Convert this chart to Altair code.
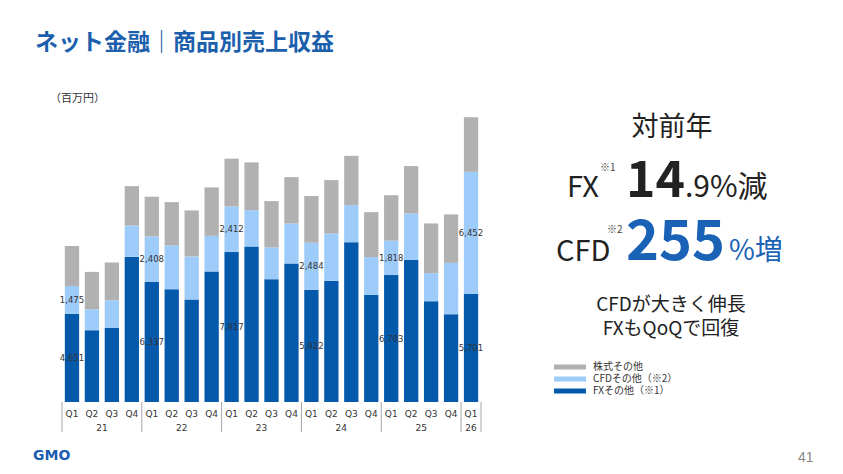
import altair as alt
import pandas as pd

quarters = ["Q1", "Q2", "Q3", "Q4"] * 5 + ["Q1"]
years = ["21"] * 4 + ["22"] * 4 + ["23"] * 4 + ["24"] * 4 + ["25"] * 4 + ["26"]
fx = [4651, 3789, 3911, 7663, 6337, 5956, 5412, 6892, 7917, 8213, 6485,
      7314, 5922, 6395, 8440, 5655, 6703, 7505, 5322, 4635, 5701]
cfd = [1475, 1110, 1464, 1659, 2408, 2310, 2273, 1881, 2412, 1918, 1675,
       2114, 2484, 2505, 1955, 1992, 1818, 2452, 1480, 2711, 6452]
stock = [2114, 1971, 1992, 2077, 2098, 2288, 2431, 2558, 2521, 2521, 2447,
         2447, 2468, 2817, 2605, 2378, 2399, 2500, 2627, 2558, 2886]
series_names = ["FXその他（※1）", "CFDその他（※2）", "株式その他"]
series_colors = ["#0459AB", "#9DCBFA", "#B1B1B1"]

# long table with stacked bottoms/tops
rows = []
for i in range(len(quarters)):
    bottom = 0
    for name, vals in zip(series_names, [fx, cfd, stock]):
        v = vals[i]
        rows.append({"idx": i, "quarter": quarters[i], "year": years[i],
                     "series": name, "value": v, "bottom": bottom,
                     "top": bottom + v, "mid": bottom + v / 2,
                     "label": f"{v:,}"})
        bottom += v
df = pd.DataFrame(rows)
lab_df = df[(df["quarter"] == "Q1") & (df["series"] != series_names[2])]

qdf = pd.DataFrame({"idx": list(range(len(quarters))), "quarter": quarters})
ydf = (pd.DataFrame({"idx": list(range(len(years))), "year": years})
       .groupby("year", as_index=False)["idx"].mean())
seps = [-0.5] + [i - 0.5 for i in range(1, len(years)) if years[i] != years[i - 1]] + [len(years) - 0.5]
sdf = pd.DataFrame({"pos": seps})

xs = alt.Scale(domain=[-0.5, len(quarters) - 0.5], nice=False, zero=False)
ys = alt.Scale(domain=[0, 16000], nice=False)

legend_order = [series_names[2], series_names[1], series_names[0]]
legend_colors = [series_colors[2], series_colors[1], series_colors[0]]

bars = alt.Chart(df).mark_bar(width=14.3).encode(
    x=alt.X("idx:Q", scale=xs, axis=None),
    y=alt.Y("bottom:Q", scale=ys, axis=None),
    y2="top:Q",
    color=alt.Color("series:N",
                    scale=alt.Scale(domain=legend_order, range=legend_colors),
                    legend=alt.Legend(orient="none", legendX=497, legendY=262,
                                      title=None,
                                      symbolType="M-1,-0.16H1V0.16H-1Z",
                                      symbolSize=1024, clipHeight=12,
                                      symbolStrokeWidth=0, symbolOpacity=1,
                                      labelFontSize=10, labelFont="Noto Sans CJK JP",
                                      labelColor="#333333", labelOffset=7,
                                      rowPadding=0)),
)

labels = alt.Chart(lab_df).mark_text(font="DejaVu Sans", fontSize=8.5, color="#333333").encode(
    x=alt.X("idx:Q", scale=xs), y=alt.Y("mid:Q", scale=ys), text="label:N")

qlab = alt.Chart(qdf).mark_text(font="DejaVu Sans", fontSize=9, color="#333333").encode(
    x=alt.X("idx:Q", scale=xs), y=alt.value(314.5), text="quarter:N")

ylab = alt.Chart(ydf).mark_text(font="DejaVu Sans", fontSize=9, color="#333333").encode(
    x=alt.X("idx:Q", scale=xs), y=alt.value(328.5), text="year:N")

rules = alt.Chart(sdf).mark_rule(color="#A6A6A6", strokeWidth=1).encode(
    x=alt.X("pos:Q", scale=xs), y=alt.value(303), y2=alt.value(333))


def ann(text, x, y, size, color="#222222", weight="normal", align="left",
        baseline="middle", font="Noto Sans CJK JP"):
    return alt.Chart(pd.DataFrame({"t": [text]})).mark_text(
        fontSize=size, color=color, fontWeight=weight, align=align,
        baseline=baseline, font=font).encode(
        text="t:N", x=alt.value(x), y=alt.value(y))


blue = "#1A62B5"
anns = [
    ann("ネット金融｜商品別売上収益", -22, -56.5, 23, color="#1B5FAD", weight="bold"),
    ann("（百万円）", -7, 0, 11, color="#333333"),
    ann("対前年", 615, 29, 27, align="center"),
    ann("FX", 510, 98, 29, baseline="alphabetic"),
    ann("※1", 543, 69, 10, color="#444444"),
    ann("14", 569, 98, 50, weight="bold", baseline="alphabetic"),
    ann(".9%減", 628, 98, 30, baseline="alphabetic"),
    ann("CFD", 499, 162, 29, baseline="alphabetic"),
    ann("※2", 550, 131, 10, color="#444444"),
    ann("255", 569, 161, 56, color=blue, weight="bold", baseline="alphabetic"),
    ann("%増", 672, 161, 28, color=blue, baseline="alphabetic"),
    ann("CFDが大きく伸長", 614, 206, 19, align="center"),
    ann("FXもQoQで回復", 614, 230, 19, align="center"),
    ann("41", 741, 363, 14, color="#888888", baseline="alphabetic", font="Liberation Sans"),
    ann("GMO", -24, 356.5, 14, color="#1C5CB0", weight="bold", font="DejaVu Sans"),
]

chart = alt.layer(bars, labels, rules, qlab, ylab, *anns).properties(
    width=429, height=303,
    autosize=alt.AutoSizeParams(type="none"),
    padding={"left": 49, "top": 91, "right": 349, "bottom": 64},
    background="white",
).configure_view(stroke=None)

chart.save("out.html", embed_options={"renderer": "svg", "actions": False})
